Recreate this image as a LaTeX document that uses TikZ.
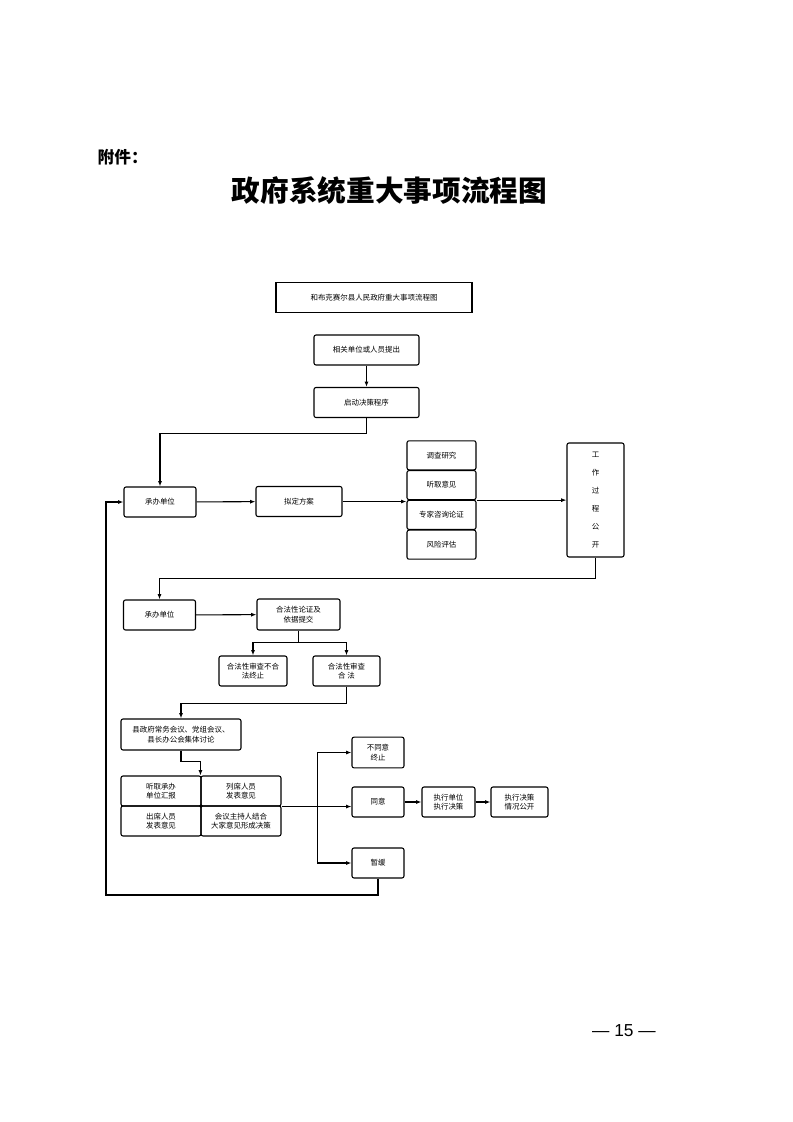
\documentclass[tikz,border=0pt]{standalone}
\usepackage{fontspec}
\setmainfont{Liberation Sans}
\newfontfamily\cjk{Noto Sans CJK SC}
\usepackage{tikz}
\usetikzlibrary{positioning,arrows.meta}

\begin{document}
\begin{tikzpicture}[x=0.75pt,y=-0.75pt,font=\fontsize{5.6}{7.2}\cjk,
		box/.style={draw, rounded corners=1.5pt, line width=0.8pt, align=center,
		inner sep=1pt, minimum height=22.5pt},
		arr/.style={-{Latex[length=4pt,width=3pt]}, line width=0.8pt},
		line/.style={line width=0.8pt}]
		\useasboundingbox (0,0) rectangle (793,1122);
		\node[anchor=west, font=\fontsize{12.5}{14}\cjk\bfseries] (fujian) at (93,157) {附件：};
		\node[font=\fontsize{21.5}{24}\cjk\bfseries] (title) at (389.5,190.5) {政府系统重大事项流程图};
		\node[box, sharp corners, minimum width=147pt, minimum height=23pt] (head) at (374,297.5)
			{和布克赛尔县人民政府重大事项流程图};
		\node[box, minimum width=78.75pt] (tichu) at (366.5,350) {相关单位或人员提出};
		\node[box, minimum width=78.75pt] (qidong) at (366.5,402.5) {启动决策程序};
		\node[box, minimum width=54pt] (chengban) at (160,502) {承办单位};
		\node[box, minimum width=64.5pt] (niding) at (299,501.5) {拟定方案};
		\foreach \t [count=\i] in {调查研究,听取意见,专家咨询论证,风险评估}
			\node[box, minimum width=51.75pt, minimum height=21.75pt] (s\i) at (441.5,425.5+29.8*\i) {\t};
		\node[box, minimum width=42.75pt, minimum height=85.5pt, font=\fontsize{5.6}{13.4}\cjk]
			(gongzuo) at (595.5,500) {工\\作\\过\\程\\公\\开};
		\node[box, minimum width=54pt] (chengban2) at (159.5,615) {承办单位};
		\node[box, minimum width=62.25pt, minimum height=23.25pt] (hefa) at (298.5,614.5) {合法性论证及\\依据提交};
		\node[box, minimum width=51pt] (buhefa) at (253,671) {合法性审查不合\\法终止};
		\node[box, minimum width=50.25pt] (hefa2) at (346.5,671) {合法性审查\\合\ 法};
		\node[box, minimum width=90pt, minimum height=23.25pt] (taolun) at (181,734.5)
			{县政府常务会议、党组会议、\\县长办公会集体讨论};
		\node[box, minimum width=60pt] (c11) at (161,791) {听取承办\\单位汇报};
		\node[box, minimum width=60pt] (c12) at (241,791) {列席人员\\发表意见};
		\node[box, minimum width=60pt] (c21) at (161,821) {出席人员\\发表意见};
		\node[box, minimum width=60pt] (c22) at (241,821) {会议主持人结合\\大家意见形成决策};
		\node[box, minimum width=39pt, minimum height=23pt] (butongyi) at (378,752.5) {不同意\\终止};
		\node[box, minimum width=39pt] (tongyi) at (378,802) {同意};
		\node[box, minimum width=39pt] (zanhuan) at (378,863) {暂缓};
		\node[box, minimum width=39.75pt] (zhixing) at (448.5,802) {执行单位\\执行决策};
		\node[box, minimum width=42.75pt] (gongkai) at (519.5,802) {执行决策\\情况公开};
		\node[font=\fontsize{13}{14}\selectfont] (page) at (624,1031) {— 15 —};
		% connectors
		\draw[arr] (tichu) -- (qidong);
		\draw[arr] (qidong.south) -- ++(0,15) -| (chengban.north);
		\draw[arr] (chengban) -- (niding);
		\draw[arr] (niding.east) -- (niding.east -| s2.west);
		\draw[arr] (s2.south east) -- (s2.south east -| gongzuo.west);
		\draw[arr] (gongzuo.south) -- ++(0,21) -| (chengban2.north);
		\draw[arr] (chengban2) -- (hefa);
		\draw[line] (hefa.south) -- ++(0,12) coordinate (fork);
		\draw[arr] (fork) -| (buhefa.north);
		\draw[arr] (fork) -| (hefa2.north);
		\draw[arr] (hefa2.south) -- ++(0,17) -| (taolun.north);
		\draw[arr] (taolun.south) -- ++(0,11) -| (c12.north west);
		\draw[line] (c12.south east) -- ++(36,0) coordinate (split);
		\draw[arr] (split) |- (butongyi);
		\draw[arr] (split) -- (split -| tongyi.west);
		\draw[arr] (split) |- (zanhuan);
		\draw[arr] (tongyi) -- (zhixing);
		\draw[arr] (zhixing) -- (gongkai);
		\coordinate (back) at (106,895);
		\draw[arr] (zanhuan.south) |- (back) |- (chengban.west);
	\end{tikzpicture}
\end{document}
